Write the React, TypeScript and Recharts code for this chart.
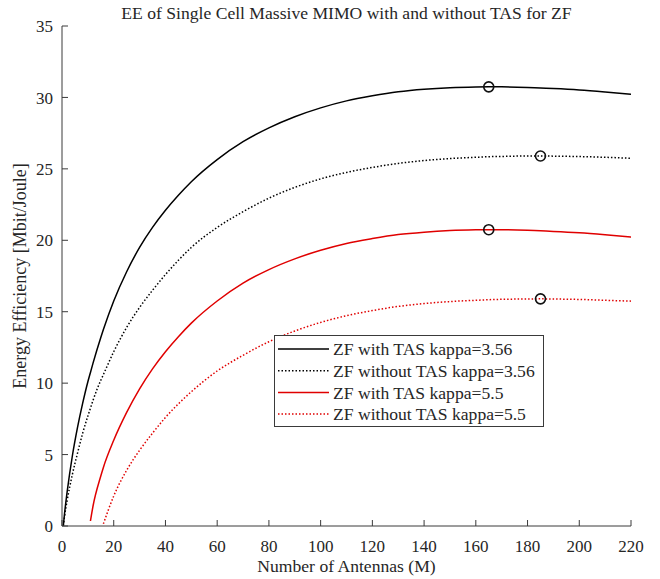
import React from "react";
import { ComposedChart, Line, Scatter, XAxis, YAxis } from "recharts";

// number of antennas M
const antennas = [0.5, 1, 2, 4, 6, 8, 10, 11, 12, 15, 16, 20, 25, 30, 35, 40, 45, 50, 60, 70, 80, 90, 100, 110, 120, 130, 140, 150, 160, 165, 170, 180, 185, 190, 200, 210, 220];

// EE values [Mbit/Joule]
const withTas356 = [0, 0.9, 2.4, 4.9, 6.9, 8.6, 10.1, 10.75, 11.4, 13.2, 13.75, 15.75, 17.8, 19.5, 20.9, 22.1, 23.15, 24.1, 25.65, 26.9, 27.87, 28.65, 29.27, 29.76, 30.11, 30.39, 30.57, 30.68, 30.73, 30.74, 30.74, 30.7, 30.66, 30.62, 30.52, 30.38, 30.22];
const withoutTas356 = [0, 0.7, 1.8, 3.6, 5.1, 6.5, 7.7, 8.25, 8.8, 10.2, 10.6, 12.2, 13.9, 15.3, 16.5, 17.6, 18.6, 19.5, 20.9, 22.0, 22.95, 23.7, 24.3, 24.75, 25.1, 25.38, 25.58, 25.72, 25.81, 25.85, 25.87, 25.9, 25.9, 25.89, 25.86, 25.81, 25.74];
const withTas55 = [null, null, null, null, null, null, null, 0.35, 1.4, 3.5, 4.1, 6.0, 7.95, 9.6, 11.0, 12.2, 13.25, 14.2, 15.75, 17.0, 17.95, 18.7, 19.3, 19.78, 20.12, 20.4, 20.57, 20.68, 20.73, 20.74, 20.74, 20.7, 20.66, 20.62, 20.52, 20.38, 20.22];
const withoutTas55 = [null, null, null, null, null, null, null, null, null, null, 0.15, 2.1, 3.9, 5.3, 6.5, 7.6, 8.55, 9.4, 10.85, 11.95, 12.9, 13.65, 14.25, 14.72, 15.08, 15.37, 15.57, 15.71, 15.8, 15.84, 15.87, 15.89, 15.9, 15.89, 15.86, 15.8, 15.74];

// maxima marked with circles
const peakM = [165, 185, 165, 185];
const peakEE = [30.74, 25.9, 20.74, 15.9];

const xTicks = [0, 20, 40, 60, 80, 100, 120, 140, 160, 180, 200, 220];
const yTicks = [0, 5, 10, 15, 20, 25, 30, 35];

const data = antennas.map((m, i) => ({
  m,
  a: withTas356[i],
  b: withoutTas356[i],
  c: withTas55[i],
  d: withoutTas55[i],
}));
const peaks = peakM.map((m, i) => ({ m, ee: peakEE[i] }));

const series = [
  { key: "a", name: "ZF with TAS kappa=3.56", color: "#000000", dash: undefined },
  { key: "b", name: "ZF without TAS kappa=3.56", color: "#000000", dash: "1.5 2" },
  { key: "c", name: "ZF with TAS kappa=5.5", color: "#e00000", dash: undefined },
  { key: "d", name: "ZF without TAS kappa=5.5", color: "#e00000", dash: "1.5 2" },
];

const FONT = "'Liberation Serif', 'Times New Roman', serif";
const AXIS = "#3a3a3a";
const TEXT = "#262626";
const TICK_FS = 17;
const LABEL_FS = 17.6;
const X_GAP = 14;
const Y_GAP = 9;
const TICK = 6;

const BottomTick = (props: any) => {
  const { x, y, payload } = props;
  return (
    <g>
      <line x1={x} x2={x} y1={y - X_GAP} y2={y - X_GAP - TICK} stroke={AXIS} />
      <text x={x} y={y} dy="0.71em" textAnchor="middle" fontSize={TICK_FS} fill={TEXT} fontFamily={FONT}>
        {payload.value}
      </text>
    </g>
  );
};

const LeftTick = (props: any) => {
  const { x, y, payload } = props;
  return (
    <g>
      <line x1={x + Y_GAP} x2={x + Y_GAP + TICK} y1={y} y2={y} stroke={AXIS} />
      <text x={x} y={y} dy="0.36em" textAnchor="end" fontSize={TICK_FS} fill={TEXT} fontFamily={FONT}>
        {payload.value}
      </text>
    </g>
  );
};

const TopTick = (props: any) => {
  const { x, y } = props;
  return <line x1={x} x2={x} y1={y} y2={y + TICK} stroke={AXIS} />;
};

const RightTick = (props: any) => {
  const { x, y } = props;
  return <line x1={x} x2={x - TICK} y1={y} y2={y} stroke={AXIS} />;
};

const PeakCircle = (props: any) => (
  <circle cx={props.cx} cy={props.cy} r={5} fill="none" stroke="#111" strokeWidth={1.6} />
);

function App() {
  return (
    <div
      style={{
        position: "absolute",
        left: 0,
        top: 0,
        width: 660,
        height: 579,
        background: "#fff",
        fontFamily: FONT,
      }}
    >
      <div
        style={{
          position: "absolute",
          left: 62,
          top: 3,
          width: 569,
          height: 20,
          lineHeight: "20px",
          fontSize: LABEL_FS,
          textAlign: "center",
          color: TEXT,
        }}
      >
        EE of Single Cell Massive MIMO with and without TAS for ZF
      </div>
      <ComposedChart
        width={660}
        height={579}
        data={data}
        margin={{ top: 26, right: 29, left: 22, bottom: 0 }}
      >
        <XAxis
          dataKey="m"
          type="number"
          domain={[0, 220]}
          ticks={xTicks}
          allowDataOverflow
          height={53}
          tickSize={0}
          tickMargin={X_GAP}
          tickLine={false}
          tick={<BottomTick />}
          stroke={AXIS}
          label={{ value: "Number of Antennas (M)", position: "insideBottom", offset: 7, fontSize: LABEL_FS, fill: TEXT, fontFamily: FONT }}
        />
        <XAxis
          xAxisId="top"
          dataKey="m"
          type="number"
          orientation="top"
          domain={[0, 220]}
          ticks={xTicks.slice(1, -1)}
          height={0}
          tickSize={0}
          tickMargin={0}
          tickLine={false}
          tick={<TopTick />}
          stroke={AXIS}
        />
        <YAxis
          type="number"
          domain={[0, 35]}
          ticks={yTicks}
          allowDataOverflow
          width={40}
          tickSize={0}
          tickMargin={Y_GAP}
          tickLine={false}
          tick={<LeftTick />}
          stroke={AXIS}
          label={{
            value: "Energy Efficiency [Mbit/Joule]",
            angle: -90,
            position: "insideLeft",
            offset: -2,
            fontSize: 18,
            fill: TEXT,
            fontFamily: FONT,
            style: { textAnchor: "middle" },
          }}
        />
        <YAxis
          yAxisId="right"
          type="number"
          orientation="right"
          domain={[0, 35]}
          ticks={yTicks.slice(1, -1)}
          width={0}
          tickSize={0}
          tickMargin={0}
          tickLine={false}
          tick={<RightTick />}
          stroke={AXIS}
        />
        {series.map((s) => (
          <Line
            key={s.key}
            dataKey={s.key}
            name={s.name}
            type="monotone"
            stroke={s.color}
            strokeWidth={1.5}
            strokeDasharray={s.dash}
            dot={false}
            activeDot={false}
            isAnimationActive={false}
          />
        ))}
        <Scatter data={peaks} dataKey="ee" shape={<PeakCircle />} isAnimationActive={false} legendType="none" />
      </ComposedChart>
      <svg
        width={270}
        height={92}
        style={{ position: "absolute", left: 274, top: 335 }}
      >
        <rect x={0.5} y={0.5} width={269} height={91} fill="#fff" stroke={AXIS} />
        {series.map((s, i) => {
          const cy = 14 + i * 21.7;
          return (
            <g key={s.key}>
              <line x1={4} x2={55} y1={cy} y2={cy} stroke={s.color} strokeWidth={1.5} strokeDasharray={s.dash} />
              <text x={59} y={cy} dy="0.36em" fontSize={LABEL_FS} fill={TEXT} fontFamily={FONT}>
                {s.name}
              </text>
            </g>
          );
        })}
      </svg>
    </div>
  );
}

export default App;
